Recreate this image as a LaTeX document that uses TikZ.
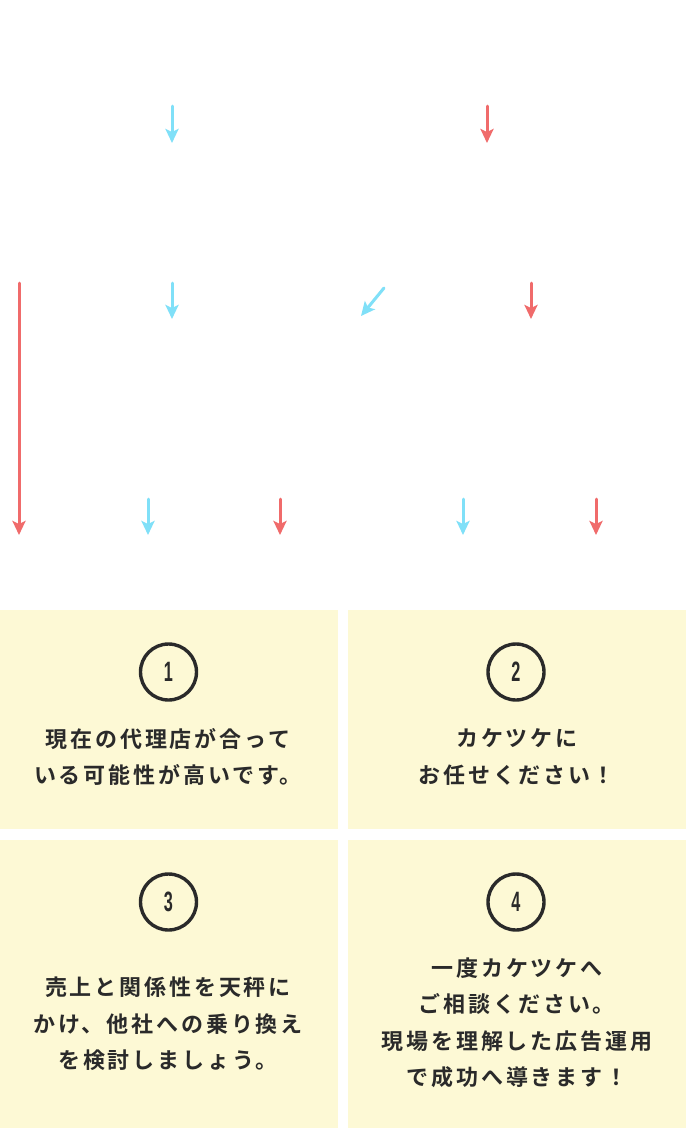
\documentclass[tikz,border=0pt]{standalone}
\usepackage{fontspec}
\usetikzlibrary{arrows.meta}
\newfontfamily\jpbold[LetterSpace=13]{Noto Sans CJK JP Bold}
\newfontfamily\numfont{Liberation Sans Bold}
\definecolor{cyanA}{HTML}{80E0F8}
\definecolor{redA}{HTML}{F06B6B}
\definecolor{boxY}{HTML}{FDF9D5}
\definecolor{inkC}{HTML}{2A2A2A}
\tikzset{
  arr/.style={line width=3pt, line cap=round, -{Stealth[length=14pt,width=13pt,inset=3pt]}},
  cy/.style={arr, draw=cyanA, fill=cyanA},
  rd/.style={arr, draw=redA, fill=redA},
  panel/.style={fill=boxY, draw=none, anchor=north west, inner sep=0pt, outer sep=0pt},
  circ/.style={circle, draw=inkC, line width=3.4pt, minimum size=56pt, inner sep=0pt, text=inkC,
    font=\numfont\fontsize{28}{28}\selectfont},
  txt/.style={align=center, text=inkC, inner sep=0pt, font=\jpbold\fontsize{22}{36.5}\selectfont}
}
\newcommand{\cnum}[1]{\scalebox{0.58}[1]{#1}}
\begin{document}
\begin{tikzpicture}[x=1pt,y=-1pt]
\useasboundingbox (0,0) rectangle (686,1128);
\fill[white] (0,0) rectangle (686,1128);
% arrows
\coordinate (a1s) at (172,106); \coordinate (a1e) at (172,143);
\coordinate (a2s) at (487,106); \coordinate (a2e) at (487,143);
\coordinate (a3s) at (19,283);  \coordinate (a3e) at (19,535);
\coordinate (a4s) at (172,283); \coordinate (a4e) at (172,319);
\coordinate (a5s) at (384,288); \coordinate (a5e) at (361,316);
\coordinate (a6s) at (531,283); \coordinate (a6e) at (531,319);
\coordinate (a7s) at (148,499); \coordinate (a7e) at (148,535);
\coordinate (a8s) at (280,499); \coordinate (a8e) at (280,535);
\coordinate (a9s) at (463,499); \coordinate (a9e) at (463,535);
\coordinate (a10s) at (596,499); \coordinate (a10e) at (596,535);
\draw[cy] (a1s) -- (a1e);
\draw[rd] (a2s) -- (a2e);
\draw[rd] (a3s) -- (a3e);
\draw[cy] (a4s) -- (a4e);
\draw[cy] (a5s) -- (a5e);
\draw[rd] (a6s) -- (a6e);
\draw[cy] (a7s) -- (a7e);
\draw[rd] (a8s) -- (a8e);
\draw[cy] (a9s) -- (a9e);
\draw[rd] (a10s) -- (a10e);
% panels
\node[panel, minimum width=338pt, minimum height=219pt] (p1) at (0,610) {};
\node[panel, minimum width=338pt, minimum height=219pt] (p2) at (348,610) {};
\node[panel, minimum width=338pt, minimum height=288pt] (p3) at (0,840) {};
\node[panel, minimum width=338pt, minimum height=288pt] (p4) at (348,840) {};
% numbers
\node[circ] (c1) at (168.5,672) {\cnum{1}};
\node[circ] (c2) at (516,672) {\cnum{2}};
\node[circ] (c3) at (168.5,902) {\cnum{3}};
\node[circ] (c4) at (516,902) {\cnum{4}};
% texts
\node[txt] (t1) at (168,757) {現在の代理店が合って\\いる可能性が高いです。};
\node[txt] (t2) at (517,757) {カケツケに\\お任せください！};
\node[txt] (t3) at (168,1024) {売上と関係性を天秤に\\かけ、他社への乗り換え\\を検討しましょう。};
\node[txt] (t4) at (517,1023) {一度カケツケへ\\ご相談ください。\\現場を理解した広告運用\\で成功へ導きます！};
\end{tikzpicture}
\end{document}
